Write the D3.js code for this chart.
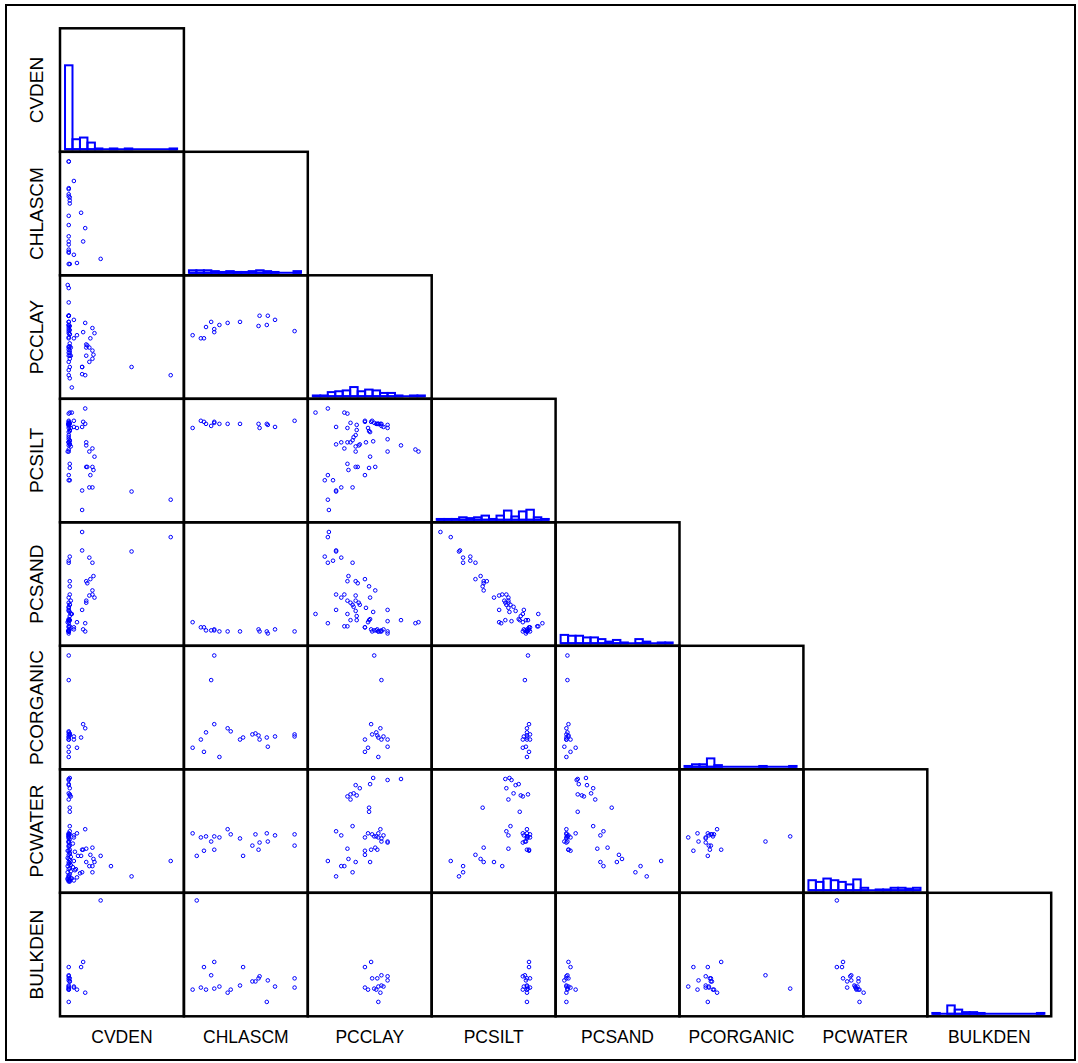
<!DOCTYPE html>
<html>
<head>
<meta charset="utf-8">
<script src="https://cdn.jsdelivr.net/npm/d3@7/dist/d3.min.js"></script>
<style>
  body { margin: 0; background: #ffffff; }
  svg text { font-family: "Liberation Sans", Arial, sans-serif; fill: #000000; }
</style>
</head>
<body>
<script>
// variable names, in matrix order
var varNames = ["CVDEN", "CHLASCM", "PCCLAY", "PCSILT", "PCSAND", "PCORGANIC", "PCWATER", "BULKDEN"];

// blocks of samples where a variable was not measured
function missing(n) { return new Array(n).fill(null); }

// one entry per sample: 63 texture samples, 10 lab samples,
// 45 field samples (density + water), 20 density-only samples
// values are on each variable's own 0-100 scale
var cvden = [
  4,17,2,1,14,2,3,1,2,6, 1,15,1,1,1,2,1,17,1,6, 1,1,1,1,9,2,1,1,2,1,
  2,1,24,18,1,2,1,1,3,21, 18,2,26,1,1,0,1,2,25,18, 19,2,24,22,1,2,1,14,62,21,
  24,100,14,
  32,1,13,2,2,1,1,2,1,1,
  1,2,0,3,1,2,1,4,0,9,2,6, 1,2,0,3,12,14,1,7, 1,2,0,42,3,1,5,2,8,
  1,2,0,3,6,1,10, 1,2,0,14,2,7, 1,5, 2,
  0,1,2,3,1,0,2,1,3,4, 1,2,0,1,2,3,1,2,0,1
];

var chlascm = [].concat(
  missing(9),
  [9,12,22,100,22,14,65,27,35,19, 81,74,66,47,73,1],
  missing(38),
  [5,38,50,59,62,100,0,0,68,11],
  missing(65)
);

var pcclay = [].concat([
  0,12,28,31,20,34,31,40,40,48, 48,54,55,57,59,60,61,63,64,66,
  70,70,64,61,51,52,53,70,56,49, 20,25,28,31,34,36,37,39,39,39,
  42,43,53,83,97,100,70,31,32,39, 41,52,58,48,12,9,17,20,20,25,
  36,12,13
], missing(75));

var pcsilt = [].concat([
  96,100,96,95,82,86,81,84,79,88, 87,87,88,86,85,85,85,85,83,82,
  84,81,85,85,81,78,77,70,68,67, 65,67,61,67,67,69,72,74,63,58,
  64,65,53,64,60,58,58,46,40,43, 43,42,43,35,35,30,30,20,19,23,
  23,11,1
], missing(75));

var pcsand = [].concat([
  20,11,8,8,24,14,20,14,18,7, 7,5,3,4,4,5,3,3,4,5,
  1,3,3,3,12,14,15,13,22,26, 39,36,39,33,31,29,27,23,33,38,
  31,29,36,14,11,12,24,52,57,52, 50,47,43,54,70,76,72,82,81,75,
  70,95,100
], missing(75));

var pcorganic = [].concat(
  missing(9),
  [18,6,33,23,100,25,22,1,29,76, 21,11,18,18,20,10],
  missing(38),
  [null,26,20,23,24,21,null,null,null,null],
  missing(65)
);

var pcwater = [].concat([
  null,null,null,null,null,85,83,null,84,43, 30,31,46,44,44,31,43,51,39,45,
  39,38,42,47,47,68,95,99,101,null, 49,45,15,32,80,54,86,94,null,null,
  null,91,19,100,null,null,null,null,22,19, null,72,33,26,null,null,null,null,5,15,
  9,20,null
], [25,46,25,35,46,35,null,null,null,null], [
  0,1,2,3,4,0,1,3,3,4,2,1, 5,7,9,10,8,9,6,11, 12,13,15,15,16,17,14,18,12,
  19,21,23,24,20,22,25, 26,28,30,31,27,29, 34,37, 41
], missing(20));

var bulkden = [].concat(
  missing(9),
  [17,37,42,26,16,15,26,18,12,29, 18,24,28,19,3,15],
  missing(38),
  [102,15,37,23,23,17,null,null,null,null],
  missing(65)
);

var columns = [cvden, chlascm, pcclay, pcsilt, pcsand, pcorganic, pcwater, bulkden];
var nSamples = cvden.length;

// layout
var gridLeft = 60,
    gridTop = 28.3,
    cellW = 123.9,
    cellH = 123.5,
    nVars = varNames.length;

var valueDomain = [0, 100],
    binDomain = [-2.6, 106.2],
    nBins = 15;

// creates the SVG canvas
var figure = d3.select("body")
  .append("svg")
    .attr("width", 1078)
    .attr("height", 1063);

// outer frame
figure.append("rect")
  .attr("x", 6).attr("y", 5)
  .attr("width", 1069).attr("height", 1055)
  .attr("fill", "none")
  .attr("stroke", "#000")
  .attr("stroke-width", 2);

// scales inside one cell
var x = d3.scaleLinear().domain(valueDomain).range([7.7, 110.7]);
var y = d3.scaleLinear().domain(valueDomain).range([112.2, 9.7]);

// histograms on the diagonal, all on one count scale
var thresholds = d3.range(1, nBins).map(function(k) {
  return binDomain[0] + k * (binDomain[1] - binDomain[0]) / nBins;
});
var binner = d3.bin().domain(binDomain).thresholds(thresholds);
var histograms = columns.map(function(col) {
  return binner(col.filter(function(v) { return v !== null; }));
});
var maxCount = d3.max(histograms, function(hist) {
  return d3.max(hist, function(b) { return b.length; });
});
var h = d3.scaleLinear().domain([0, maxCount]).range([0, 84]);

for (var i = 0; i < nVars; i++) {
  for (var j = 0; j <= i; j++) {
    var cell = figure.append("g")
      .attr("transform", "translate(" + (gridLeft + j * cellW) + "," + (gridTop + i * cellH) + ")");

    if (i === j) {
      var base = cellH - 2.5;
      cell.append("line")
        .attr("x1", x(binDomain[0])).attr("x2", x(binDomain[1]))
        .attr("y1", base).attr("y2", base)
        .attr("stroke", "#0000ff")
        .attr("stroke-width", 2);
      cell.selectAll("rect.bar")
        .data(histograms[i].filter(function(b) { return b.length > 0; }))
        .enter()
        .append("rect")
        .attr("class", "bar")
        .attr("x", function(b) { return x(b.x0); })
        .attr("width", function(b) { return x(b.x1) - x(b.x0); })
        .attr("y", function(b) { return base - h(b.length); })
        .attr("height", function(b) { return h(b.length); })
        .attr("fill", "none")
        .attr("stroke", "#0000ff")
        .attr("stroke-width", 2);
    } else {
      var xs = columns[j], ys = columns[i];
      var rows = d3.range(nSamples).filter(function(k) {
        return xs[k] !== null && ys[k] !== null;
      });
      cell.selectAll("circle")
        .data(rows)
        .enter()
        .append("circle")
        .attr("r", 1.8)
        .attr("cx", function(k) { return x(xs[k]); })
        .attr("cy", function(k) { return y(ys[k]); })
        .attr("fill", "none")
        .attr("stroke", "#0000ff")
        .attr("stroke-width", 1);
    }

    cell.append("rect")
      .attr("width", cellW)
      .attr("height", cellH)
      .attr("fill", "none")
      .attr("stroke", "#000")
      .attr("stroke-width", 2.5);
  }
}

// variable labels
varNames.forEach(function(name, k) {
  figure.append("text")
    .attr("x", gridLeft + k * cellW + cellW / 2)
    .attr("y", 1043)
    .attr("text-anchor", "middle")
    .attr("font-size", 17.5)
    .text(name);

  figure.append("text")
    .attr("transform", "translate(43.3," + (gridTop + k * cellH + cellH / 2) + ") rotate(-90)")
    .attr("text-anchor", "middle")
    .attr("font-size", 19)
    .text(name);
});
</script>
</body>
</html>
